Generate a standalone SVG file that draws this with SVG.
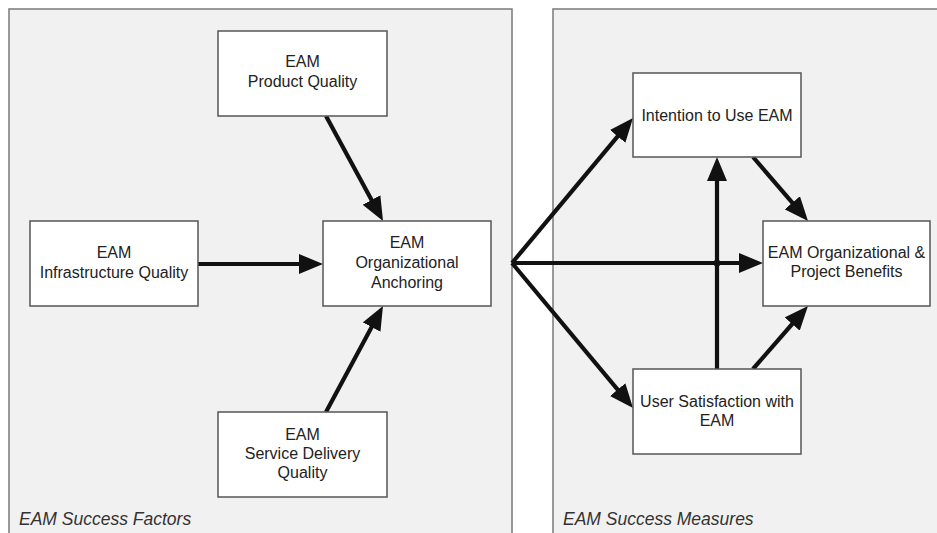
<svg xmlns="http://www.w3.org/2000/svg" width="937" height="533" viewBox="0 0 937 533">
<style>
.panel{fill:#f1f1f1;stroke:#7a7a7a;stroke-width:1.5}
.box{fill:#ffffff;stroke:#555;stroke-width:1.5}
.t{font-family:"Liberation Sans",Arial,sans-serif;font-size:16px;fill:#222;text-anchor:middle}
.lbl{font-family:"Liberation Sans",Arial,sans-serif;font-size:17.5px;font-style:italic;fill:#333}
.c{stroke:#111;stroke-width:4.2;fill:none;marker-end:url(#ah)}
</style>
<defs>
<marker id="ah" markerUnits="userSpaceOnUse" markerWidth="24" markerHeight="20" refX="16" refY="10" orient="auto">
<path d="M0,0 L24,10 L0,20 z" fill="#111"/>
</marker>
</defs>
<rect width="937" height="533" fill="#ffffff"/>
<g id="panel-factors">
<rect class="panel" x="9" y="9" width="503" height="540"/>
<text class="lbl" x="19" y="525">EAM Success Factors</text>
</g>
<g id="panel-measures">
<rect class="panel" x="553" y="9" width="400" height="540"/>
<text class="lbl" x="563" y="525">EAM Success Measures</text>
</g>
<g id="connectors">
<line class="c" x1="326" y1="116" x2="379.2" y2="214"/>
<line class="c" x1="198" y1="264" x2="315" y2="264"/>
<line class="c" x1="326" y1="412" x2="379.2" y2="313"/>
<line class="c" x1="512" y1="263" x2="627.9" y2="124.1"/>
<line class="c" x1="512" y1="263" x2="755" y2="263"/>
<line class="c" x1="512" y1="263" x2="627.9" y2="401.9"/>
<line class="c" x1="717" y1="369" x2="717" y2="165"/>
<line class="c" x1="753" y1="157" x2="802.8" y2="214.9"/>
<line class="c" x1="753" y1="369" x2="802.7" y2="312"/>
<circle cx="717" cy="263" r="3.5" fill="#111"/>
</g>
<g id="product-quality">
<rect class="box" x="218" y="31" width="169" height="85"/>
<text class="t" x="302.5" y="67">EAM</text>
<text class="t" x="302.5" y="87">Product Quality</text>
</g>
<g id="infrastructure-quality">
<rect class="box" x="30" y="221" width="168" height="85"/>
<text class="t" x="114" y="258">EAM</text>
<text class="t" x="114" y="278">Infrastructure Quality</text>
</g>
<g id="organizational-anchoring">
<rect class="box" x="323" y="221" width="168" height="85"/>
<text class="t" x="407" y="248">EAM</text>
<text class="t" x="407" y="268">Organizational</text>
<text class="t" x="407" y="288">Anchoring</text>
</g>
<g id="service-delivery-quality">
<rect class="box" x="218" y="412" width="169" height="85"/>
<text class="t" x="302.5" y="440">EAM</text>
<text class="t" x="302.5" y="459">Service Delivery</text>
<text class="t" x="302.5" y="478">Quality</text>
</g>
<g id="intention-to-use">
<rect class="box" x="633" y="73" width="168" height="84"/>
<text class="t" x="717" y="121">Intention to Use EAM</text>
</g>
<g id="benefits">
<rect class="box" x="763" y="221" width="167" height="85"/>
<text class="t" x="846.5" y="258">EAM Organizational &amp;</text>
<text class="t" x="846.5" y="277">Project Benefits</text>
</g>
<g id="user-satisfaction">
<rect class="box" x="633" y="369" width="168" height="85"/>
<text class="t" x="717" y="407">User Satisfaction with</text>
<text class="t" x="717" y="426">EAM</text>
</g>
</svg>
